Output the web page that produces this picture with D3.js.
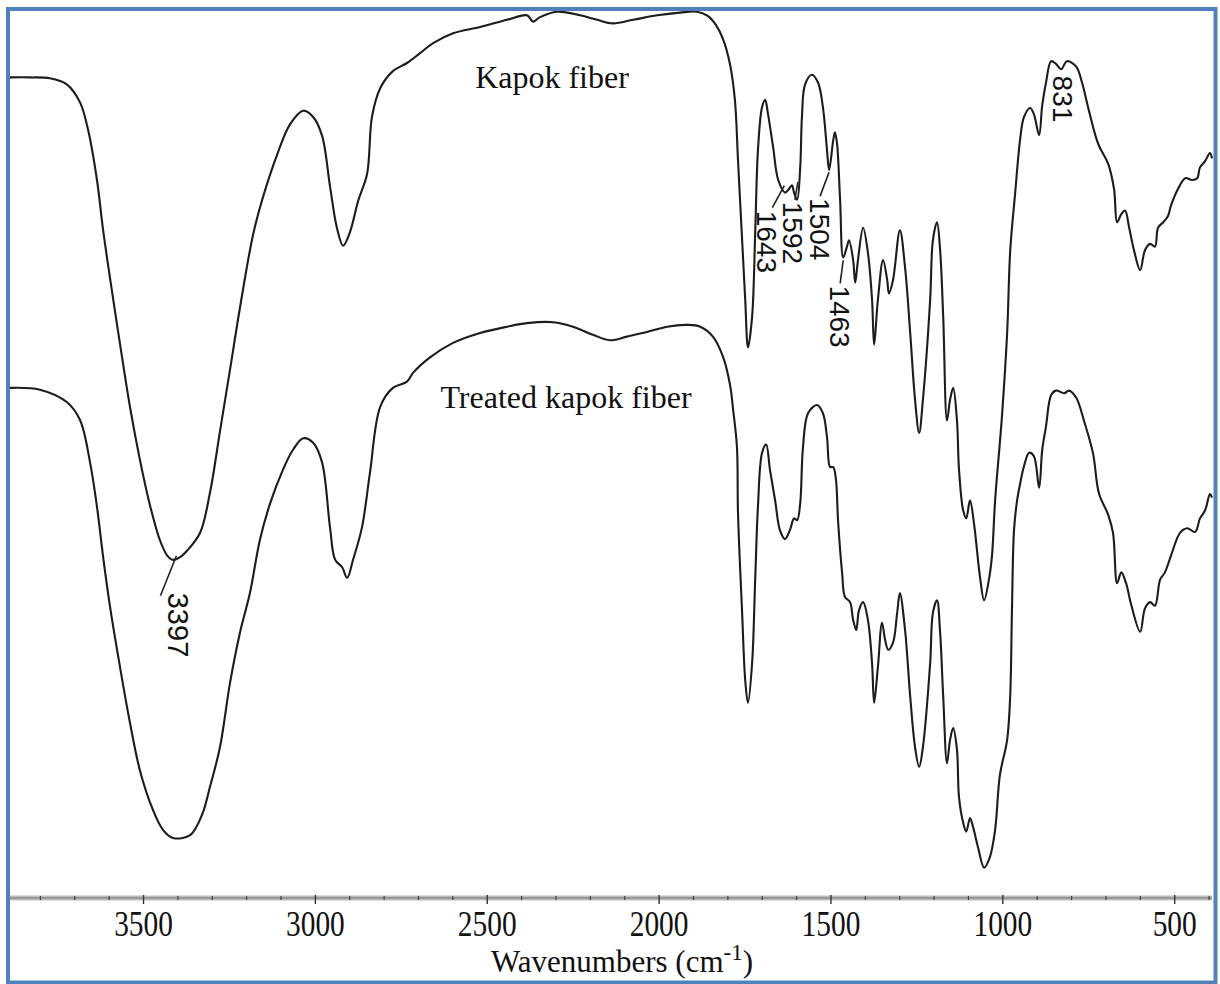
<!DOCTYPE html>
<html>
<head>
<meta charset="utf-8">
<script src="https://cdn.jsdelivr.net/npm/d3@7"></script>
<style>
  html, body { margin: 0; padding: 0; background: #fff; }
  svg { display: block; }
</style>
</head>
<body>
<svg id="chart" width="1220" height="984"></svg>
<script>
// ---------------- DATA ----------------
const seriesNames = ["Kapok fiber", "Treated kapok fiber"];

const kapokWavenumbers = [3887,3829,3771,3721,3683,3660,3634,3616,3596,3567,3538,3509,3480,3451,3430,3413,3392,3372,3334,3305,3276,3247,3218,3180,3151,3110,3072,3034,3005,2979,2956,2936,2918,2898,2874,2848,2834,2810,2773,2732,2694,2656,2598,2519,2441,2383,2365,2345,2295,2228,2179,2133,2074,2004,1938,1888,1856,1833,1812,1792,1778,1769,1757,1748,1740,1728,1719,1711,1699,1690,1682,1667,1652,1632,1623,1612,1606,1597,1588,1583,1574,1554,1536,1522,1510,1504,1492,1487,1481,1472,1463,1452,1446,1434,1428,1420,1405,1391,1379,1373,1362,1347,1335,1330,1318,1298,1283,1268,1254,1242,1231,1210,1202,1190,1181,1172,1161,1152,1143,1132,1126,1114,1105,1094,1082,1065,1053,1039,1030,1021,1001,986,977,963,948,937,919,908,893,884,873,858,844,829,812,785,768,748,721,692,675,666,654,643,631,617,599,585,570,556,547,532,518,509,489,468,448,433,425,410,396,390];
const kapokTransmittance = [91.4,91.4,91.3,90.6,88.6,85.6,80.0,74.4,69.1,61.8,54.8,48.9,43.9,40.0,38.3,37.8,38.1,38.8,40.8,45.3,52.1,58.9,65.8,73.9,78.1,82.8,86.2,87.7,87.0,84.9,79.3,74.7,72.7,74.2,77.7,80.7,87.0,90.2,92.1,93.0,94.1,95.2,96.3,97.0,97.8,98.3,97.6,98.1,98.7,98.3,97.8,97.4,97.8,98.3,98.6,98.7,98.2,97.2,95.6,92.8,88.9,82.2,73.3,66.7,61.4,64.8,74.1,83.3,88.1,88.9,87.4,83.7,80.0,78.6,78.9,79.4,78.6,77.8,81.4,87.0,90.6,91.7,90.8,88.1,83.3,81.1,84.4,85.3,84.1,77.8,71.4,72.6,73.3,71.1,68.6,71.1,74.7,71.9,66.7,61.7,66.7,71.1,68.9,67.4,68.9,74.4,70.3,63.0,55.6,51.9,55.6,66.7,73.3,75.3,72.2,64.8,53.3,55.6,56.9,53.3,47.8,43.3,42.4,44.4,41.7,35.9,33.3,35.6,38.3,44.4,53.8,63.0,72.2,78.4,84.6,87.0,88.0,87.3,85.0,88.3,90.8,93.2,92.9,92.3,93.2,92.6,90.8,87.7,84.0,81.8,79.0,75.3,76.2,76.6,74.7,72.2,70.0,72.2,72.9,72.6,74.7,75.3,76.0,77.2,79.0,80.2,80.0,80.2,81.4,82.1,83.0,82.4];

const treatedWavenumbers = [3887,3800,3721,3683,3654,3634,3616,3596,3567,3538,3509,3471,3442,3413,3363,3328,3305,3276,3247,3218,3189,3160,3130,3093,3064,3034,3005,2979,2956,2941,2921,2906,2889,2863,2840,2810,2773,2732,2714,2665,2598,2519,2441,2383,2307,2249,2191,2141,2092,2034,1975,1917,1879,1842,1812,1792,1783,1772,1769,1757,1748,1740,1728,1719,1711,1699,1687,1676,1661,1647,1632,1618,1606,1597,1588,1580,1565,1539,1522,1510,1501,1492,1484,1478,1466,1458,1443,1434,1425,1417,1405,1391,1379,1373,1362,1350,1341,1332,1318,1306,1298,1283,1268,1254,1242,1231,1210,1202,1190,1181,1172,1161,1152,1143,1132,1126,1114,1105,1094,1085,1071,1053,1036,1021,1007,986,977,972,966,957,948,937,922,908,893,884,873,858,844,820,806,785,762,736,719,692,678,666,654,640,625,599,585,570,556,541,527,509,483,462,439,425,410,396,390];
const treatedTransmittance = [56.9,56.7,55.3,53.3,48.6,43.7,38.1,32.6,25.9,19.7,14.4,10.0,7.8,6.9,7.2,9.5,12.6,17.0,24.1,29.7,34.1,40.0,44.1,47.8,50.0,51.3,50.8,48.6,41.4,37.8,37.0,35.8,37.8,41.4,47.4,54.8,56.9,57.6,58.6,60.3,61.9,63.0,63.7,64.1,64.2,63.7,62.8,62.2,62.6,63.1,63.7,63.9,63.7,62.6,60.3,57.2,54.4,50.3,43.0,31.9,24.4,21.9,26.3,35.6,43.7,49.7,50.6,47.8,44.4,41.1,40.1,41.1,42.4,42.2,44.1,50.3,54.1,55.0,54.1,51.4,48.1,48.1,46.7,42.2,36.3,33.7,33.1,31.1,30.0,32.2,33.1,31.1,26.3,21.9,25.9,30.8,28.9,27.8,28.6,31.9,34.1,30.0,22.6,17.0,14.8,17.0,26.3,31.9,33.3,29.7,22.6,15.2,17.8,19.1,16.7,11.4,8.6,7.6,9.1,8.1,5.9,3.6,4.8,7.8,13.9,17.8,22.8,32.2,41.1,44.4,46.3,48.2,49.7,49.3,45.8,50.0,52.6,56.1,56.6,56.3,56.6,55.8,53.2,49.6,45.2,42.8,40.8,35.2,36.4,35.2,32.8,29.8,32.4,33.1,32.7,35.6,36.4,38.3,40.8,41.3,40.9,42.4,43.3,45.1,44.7];

const majorTicks = [3500, 3000, 2500, 2000, 1500, 1000, 500];
const minorTicks = [3800,3700,3600,3400,3300,3200,3100,2900,2800,2700,2600,2400,2300,2200,2100,1900,1800,1700,1600,1400,1300,1200,1100,900,800,700,600,400];

const peakLabels   = ["3397", "1643", "1592", "1504", "1463", "831"];
const peakWaves    = [3397, 1643, 1592, 1504, 1463, 831];
const peakSeries   = [0, 0, 0, 0, 0, 0];

// ---------------- LAYOUT ----------------
const svg = d3.select("#chart");
const W = 1220, H = 984;
const xDomain = [3887, 390];
const x = d3.scaleLinear().domain(xDomain).range([10, 1212]);
const y = d3.scaleLinear().domain([0, 100]).range([900, 0]);

svg.append("rect").attr("width", W).attr("height", H).attr("fill", "#fff");

const series = [
  {name: seriesNames[0], pts: kapokWavenumbers.map((w, i) => ({w, t: kapokTransmittance[i]}))},
  {name: seriesNames[1], pts: treatedWavenumbers.map((w, i) => ({w, t: treatedTransmittance[i]}))}
];

const line = d3.line()
  .x(d => x(d.w))
  .y(d => y(d.t))
  .curve(d3.curveCatmullRom.alpha(0.5));

svg.selectAll("path.spec")
  .data(series)
  .join("path")
  .attr("class", "spec")
  .attr("d", d => line(d.pts))
  .attr("fill", "none")
  .attr("stroke", "#1c1c1c")
  .attr("stroke-width", 2.1)
  .attr("stroke-linejoin", "round");

// Series labels
const serif = "'Liberation Serif', 'Times New Roman', serif";
const sans = "'Liberation Sans', Arial, sans-serif";
svg.append("text").attr("x", 552).attr("y", 88)
  .attr("text-anchor", "middle").attr("font-family", serif).attr("font-size", 32)
  .attr("fill", "#111").text(seriesNames[0]);
svg.append("text").attr("x", 566).attr("y", 408)
  .attr("text-anchor", "middle").attr("font-family", serif).attr("font-size", 32)
  .attr("fill", "#111").text(seriesNames[1]);

// Peak annotations: leader offsets (curve point -> label start), label start offset
const peakLayout = [
  {lead: [[-2, -2], [-18, 38]], text: [-10, 35]},
  {lead: [[3, 0], [-9, 22]], text: [-24, 25]},
  {lead: [[-1, 0], [-4, 18]], text: [-16, 20]},
  {lead: [[0, 2], [-9, 26]], text: [-19, 28]},
  {lead: [[0, 3], [-3, 26]], text: [-13, 28]},
  {lead: null, text: [-7, 7]}
];
peakLabels.forEach((lab, i) => {
  const s = series[peakSeries[i]].pts;
  const idx = s.findIndex(p => p.w <= peakWaves[i]);
  const a = s[Math.max(0, idx - 1)], b = s[idx];
  const f = a.w === b.w ? 0 : (a.w - peakWaves[i]) / (a.w - b.w);
  const px = x(peakWaves[i]);
  const py = y(a.t + (b.t - a.t) * f);
  const L = peakLayout[i];
  if (L.lead) {
    svg.append("line")
      .attr("x1", px + L.lead[0][0]).attr("y1", py + L.lead[0][1])
      .attr("x2", px + L.lead[1][0]).attr("y2", py + L.lead[1][1])
      .attr("stroke", "#222").attr("stroke-width", 1.6);
  }
  svg.append("text")
    .attr("transform", `translate(${px + L.text[0]},${py + L.text[1]}) rotate(90)`)
    .attr("font-family", sans)
    .attr("font-size", i === 0 ? 29 : 28)
    .attr("fill", "#111")
    .text(lab);
});

// ---------------- AXIS ----------------
const axisY = 898;
const axisG = svg.append("g").attr("transform", `translate(0,${axisY})`);
axisG.append("line").attr("x1", 10).attr("x2", 1212).attr("y1", 0).attr("y2", 0)
  .attr("stroke", "#bdbdbd").attr("stroke-width", 5);
axisG.append("line").attr("x1", 10).attr("x2", 1212).attr("y1", 0).attr("y2", 0)
  .attr("stroke", "#8c8c8c").attr("stroke-width", 1.5);

const minorAxis = d3.axisBottom(x).tickValues(minorTicks).tickSize(3).tickFormat("");
const mg = axisG.append("g").call(minorAxis);
mg.select(".domain").remove();
mg.selectAll(".tick line").attr("y1", -2).attr("y2", 2).attr("stroke", "#444").attr("stroke-width", 1.2);

const majorAxis = d3.axisBottom(x).tickValues(majorTicks).tickSize(5).tickFormat(d3.format("d"));
const ag = axisG.append("g").call(majorAxis);
ag.select(".domain").remove();
ag.selectAll(".tick line").attr("y1", -3).attr("y2", 6).attr("stroke", "#333").attr("stroke-width", 1.4);
ag.selectAll(".tick text")
  .attr("y", 38).attr("dy", 0)
  .attr("font-family", serif).attr("font-size", 35)
  .attr("fill", "#111")
  .attr("transform", "scale(0.84,1)");

// Axis title
const title = svg.append("text").attr("x", 622).attr("y", 972)
  .attr("text-anchor", "middle").attr("font-family", serif).attr("font-size", 31).attr("fill", "#111");
title.append("tspan").text("Wavenumbers (cm");
title.append("tspan").attr("dy", -12).attr("font-size", 23).text("-1");
title.append("tspan").attr("dy", 12).text(")");

// Frame
svg.append("rect").attr("x", 8).attr("y", 9).attr("width", 1207.5).attr("height", 973.5)
  .attr("fill", "none").attr("stroke", "#4f81bd").attr("stroke-width", 4);
</script>
</body>
</html>
